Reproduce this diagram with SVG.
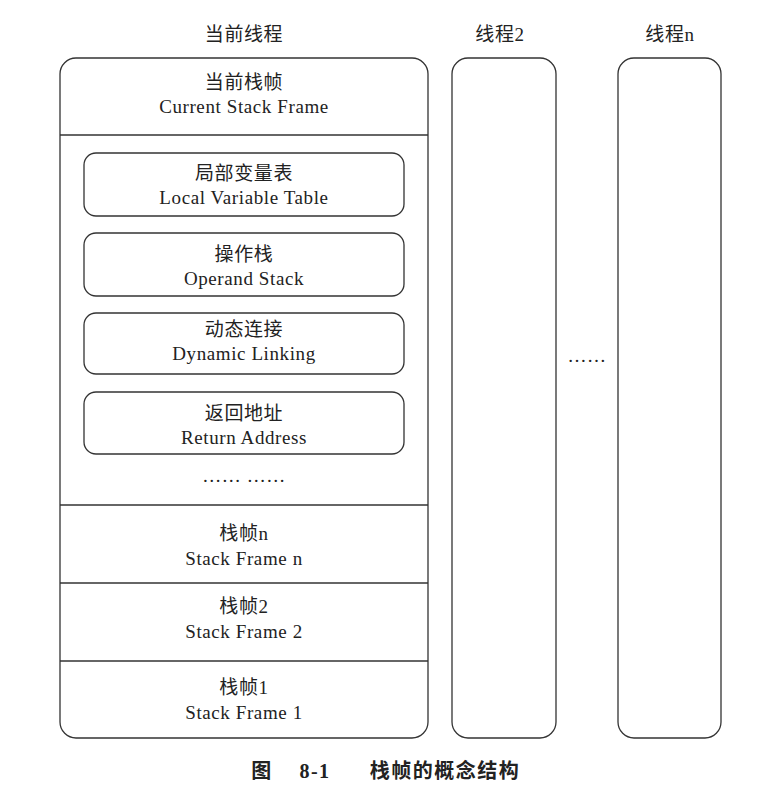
<svg xmlns="http://www.w3.org/2000/svg" width="771" height="789" viewBox="0 0 771 789">
<style>
.b{fill:#fff;stroke:#333;stroke-width:1.3}
.l{stroke:#333;stroke-width:1.3}
text{font-family:"Liberation Serif","Noto Sans CJK SC",serif;font-size:19px;letter-spacing:0.6px;fill:#222;text-anchor:middle}
.cap{font-weight:bold;font-size:20px;letter-spacing:1.5px}
</style>
<rect width="771" height="789" fill="#fff"/>
<text x="244" y="41">当前线程</text>
<text x="500" y="41">线程2</text>
<text x="670" y="41">线程n</text>
<g id="thread-current">
<rect class="b" x="60" y="58" width="368" height="680" rx="16"/>
<line class="l" x1="60" y1="135" x2="428" y2="135"/>
<line class="l" x1="60" y1="505" x2="428" y2="505"/>
<line class="l" x1="60" y1="583" x2="428" y2="583"/>
<line class="l" x1="60" y1="661" x2="428" y2="661"/>
</g>
<g id="current-frame"><text x="244" y="89">当前栈帧</text><text x="244" y="113">Current Stack Frame</text></g>
<g id="lvt"><rect class="b" x="84" y="153" width="320" height="63" rx="12"/><text x="244" y="180">局部变量表</text><text x="244" y="204">Local Variable Table</text></g>
<g id="os"><rect class="b" x="84" y="233" width="320" height="63" rx="12"/><text x="244" y="261">操作栈</text><text x="244" y="285">Operand Stack</text></g>
<g id="dl"><rect class="b" x="84" y="313" width="320" height="61" rx="12"/><text x="244" y="336">动态连接</text><text x="244" y="360">Dynamic Linking</text></g>
<g id="ra"><rect class="b" x="84" y="392" width="320" height="62" rx="12"/><text x="244" y="420">返回地址</text><text x="244" y="444">Return Address</text></g>
<text x="244" y="482">…… ……</text>
<g id="sfn"><text x="244" y="540">栈帧n</text><text x="244" y="565">Stack Frame n</text></g>
<g id="sf2"><text x="244" y="613">栈帧2</text><text x="244" y="638">Stack Frame 2</text></g>
<g id="sf1"><text x="244" y="694">栈帧1</text><text x="244" y="719">Stack Frame 1</text></g>
<g id="thread-2"><rect class="b" x="452" y="58" width="104" height="680" rx="16"/></g>
<text x="587" y="362">……</text>
<g id="thread-n"><rect class="b" x="618" y="58" width="103" height="680" rx="16"/></g>
<g id="connectors"></g>
<g id="caption">
<text class="cap" x="262" y="778">图</text>
<text class="cap" x="315" y="778">8-1</text>
<text class="cap" x="445" y="778">栈帧的概念结构</text>
</g>
</svg>
